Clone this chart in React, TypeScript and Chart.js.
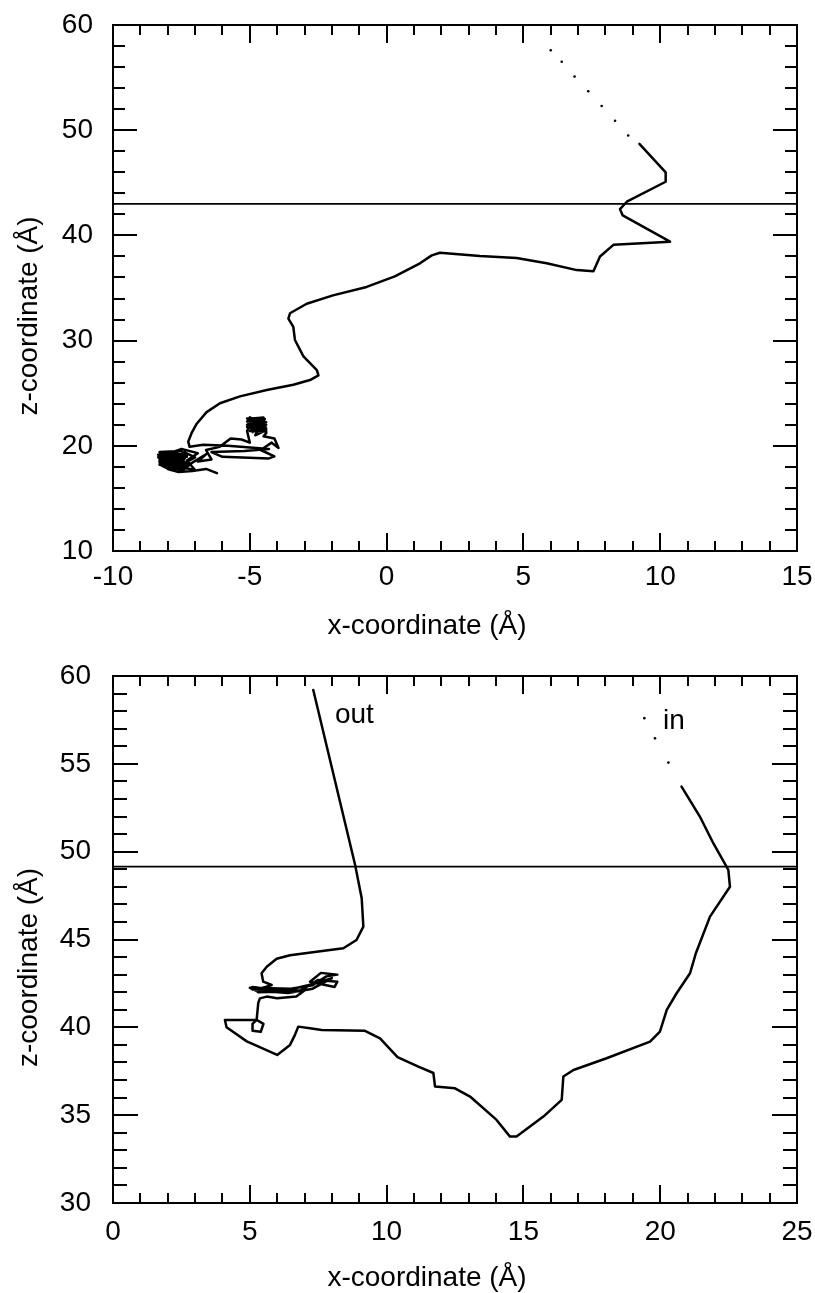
import { useEffect, useRef } from "react";
import { Chart, registerables } from "chart.js";

Chart.register(...registerables);

const FONT = "'Liberation Sans', Arial, Helvetica, sans-serif";
const FONT_SIZE = 28;
const X_TITLE = "x-coordinate (Å)";
const Z_TITLE = "z-coordinate (Å)";

// ---------- top panel ----------
const topPathX = [
  -6.2, -6.6, -7.1, -7.6, -8.0, -8.3, -8.1, -7.7, -7.4, -7.8, -8.2, -7.9, -7.3, -7.6, -7.0, -7.3,
  -6.9, -7.5, -8.0, -7.7, -8.3, -7.9, -8.2, -7.6, -7.9, -8.35, -7.5, -7.2, -7.9, -8.1, -7.4, -7.0,
  -7.7,
  -8.3, -7.5, -8.35, -7.4, -8.35, -7.3, -8.3, -7.4, -8.3, -7.5, -8.2, -7.3, -8.0, -7.5,
  -7.1, -6.6, -6.9, -6.4, -6.6, -6.1, -5.7, -5.3, -5.0, -5.1, -4.9, -4.5, -4.4, -4.8, -4.6,
  -5.1, -4.8, -5.1, -4.5, -4.9, -4.4, -5.0, -4.7,
  -5.1, -4.45, -5.1, -4.4, -5.1, -4.45, -5.05, -4.4, -5.0, -4.4,
  -4.4, -4.5, -4.1, -3.95, -4.2, -4.6, -4.1, -4.3,
  -6.0, -6.4, -5.2, -4.3, -5.8, -6.7, -7.2,
  -7.25, -7.13, -6.94, -6.58, -6.09, -5.36, -4.38, -3.41, -2.8, -2.49, -2.55, -3.04,
  -3.35, -3.41, -3.59, -3.53, -2.92, -1.96, -0.73, 0.3, 1.22, 1.65, 1.95, 3.41, 4.75, 5.85, 6.95,
  7.56, 7.8, 8.29, 10.36, 8.63, 8.53, 8.78, 10.2, 10.2, 9.24,
];
const topPathZ = [
  17.4, 17.8, 17.6, 17.5, 17.8, 18.5, 19.2, 19.5, 18.9, 18.3, 18.8, 19.4, 19.1, 18.0, 17.7, 18.6,
  19.3, 19.7, 19.0, 18.1, 18.2, 17.7, 19.0, 19.6, 18.6, 18.9, 17.6, 18.2, 19.1, 18.0, 19.4, 18.9,
  17.9,
  19.4, 19.5, 19.15, 19.2, 18.9, 18.95, 18.65, 18.7, 18.4, 18.4, 18.1, 18.15, 17.85, 17.8,
  18.4, 19.2, 18.5, 18.7, 19.6, 19.9, 20.7, 20.6, 20.3, 21.4, 22.6, 22.7, 21.5, 21.0, 22.2,
  21.8, 22.5, 22.0, 22.4, 21.3, 22.0, 22.7, 21.6,
  22.6, 22.55, 22.3, 22.25, 22.0, 21.95, 21.7, 21.65, 21.4, 21.35,
  21.2, 20.9, 20.7, 19.8, 20.3, 19.6, 19.0, 18.8,
  18.95, 19.4, 19.5, 19.7, 20.0, 20.1, 19.9,
  20.4, 21.2, 22.1, 23.2, 24.04, 24.7, 25.3, 25.8, 26.25, 26.7, 27.2, 28.5,
  30.06, 31.3, 32.1, 32.6, 33.5, 34.3, 35.1, 36.1, 37.35, 38.1, 38.35, 38.04, 37.85, 37.35, 36.7,
  36.6, 38.0, 39.1, 39.4, 41.9, 42.5, 43.2, 45.1, 46.0, 48.7,
];
const topDotsX = [8.83, 8.35, 7.86, 7.37, 6.87, 6.4, 6.0];
const topDotsZ = [49.5, 50.9, 52.3, 53.7, 55.1, 56.5, 57.6];
const topRefZ = 43.0;
const topXRange = [-10, 15];
const topZRange = [10, 60];
const topXStep = 5;
const topZStep = 10;
const topXMinor = 1;
const topZMinor = 2;

// ---------- bottom panel ----------
const botPathX = [
  20.78, 21.45, 21.94, 22.49, 22.55, 21.82, 21.3, 21.09, 20.6, 20.24, 19.99, 19.63, 18.04, 16.83,
  16.46, 16.4, 15.73, 14.75, 14.51, 14.02, 13.05, 12.5, 11.77, 11.71, 11.16, 10.4, 9.76, 9.21,
  7.63, 7.2, 6.77, 6.65, 6.47, 6.0, 4.89, 4.15, 4.09, 5.25, 5.1, 5.1, 5.4, 5.5, 5.25, 5.31, 5.37,
  5.62, 6.0, 6.7, 7.0, 5.1, 5.0, 6.5, 7.3, 7.8, 8.2, 7.6, 7.2, 8.1, 8.2, 7.5, 6.8, 5.3, 5.1, 6.2,
  7.4, 8.0, 7.3, 6.4, 5.2, 5.8,
  5.49, 5.43, 5.62, 5.98, 6.47, 7.44, 8.42, 8.9, 9.15, 9.09, 8.85, 7.32,
];
const botPathZ = [
  53.7, 52.0, 50.48, 48.96, 48.0, 46.3, 44.2, 43.08, 41.94, 41.0, 39.76, 39.19, 38.24, 37.57,
  37.2, 35.87, 34.92, 33.78, 33.78, 34.73, 36.06, 36.53, 36.63, 37.4, 37.76, 38.3, 39.37, 39.8,
  39.85, 39.95, 40.04, 39.57, 39.0, 38.43, 39.2, 40.0, 40.42, 40.42, 40.2, 39.8, 39.75, 40.2, 40.42,
  41.4, 41.65, 41.75, 41.65, 41.75, 42.1, 42.15, 42.25, 42.2, 42.4, 42.9, 43.0, 43.1, 42.6, 42.3,
  42.6, 42.7, 42.05, 42.0, 42.3, 42.05, 42.5, 42.8, 42.2, 41.95, 42.1, 42.41,
  42.6, 43.08, 43.45, 43.9, 44.1, 44.3, 44.5, 44.97, 45.73, 47.35, 49.24, 59.2,
];
const botDotsX = [19.42, 19.81, 20.3];
const botDotsZ = [57.6, 56.45, 55.07];
const botRefZ = 49.15;
const botXRange = [0, 25];
const botZRange = [30, 60];
const botXStep = 5;
const botZStep = 5;
const botXMinor = 1;
const botZMinor = 1;
const botLabels = ["out", "in"];
const botLabelX = [8.11, 20.1];
const botLabelZ = [57.33, 56.98];

type PanelCfg = {
  xs: number[];
  zs: number[];
  dx: number[];
  dz: number[];
  ref: number;
  xr: number[];
  zr: number[];
  xStep: number;
  zStep: number;
  xMinor: number;
  zMinor: number;
  xTickLen: number[];
  zTickLen: number[];
  xPad: number;
  zPad: number;
  scaleH: number;
  labels?: string[];
  lx?: number[];
  lz?: number[];
};

function toPts(xs: number[], zs: number[]) {
  return xs.map((x, i) => ({ x, y: zs[i] }));
}

function makeDecor(cfg: PanelCfg) {
  return {
    id: "decor",
    afterDraw(chart: any) {
      const { ctx, chartArea: a, scales } = chart;
      const sx = scales.x;
      const sy = scales.y;
      ctx.save();
      ctx.strokeStyle = "#000";
      ctx.lineWidth = 2;
      ctx.lineCap = "butt";
      ctx.strokeRect(a.left, a.top, a.right - a.left, a.bottom - a.top);
      ctx.beginPath();
      for (let v = cfg.xr[0]; v <= cfg.xr[1] + 1e-9; v += cfg.xMinor) {
        const isMajor = Math.abs(v / cfg.xStep - Math.round(v / cfg.xStep)) < 1e-6;
        const len = isMajor ? cfg.xTickLen[0] : cfg.xTickLen[1];
        const px = Math.round(sx.getPixelForValue(v));
        ctx.moveTo(px, a.bottom);
        ctx.lineTo(px, a.bottom - len);
        ctx.moveTo(px, a.top);
        ctx.lineTo(px, a.top + len);
      }
      for (let v = cfg.zr[0]; v <= cfg.zr[1] + 1e-9; v += cfg.zMinor) {
        const isMajor = Math.abs(v / cfg.zStep - Math.round(v / cfg.zStep)) < 1e-6;
        const len = isMajor ? cfg.zTickLen[0] : cfg.zTickLen[1];
        const py = Math.round(sy.getPixelForValue(v));
        ctx.moveTo(a.left, py);
        ctx.lineTo(a.left + len, py);
        ctx.moveTo(a.right, py);
        ctx.lineTo(a.right - len, py);
      }
      ctx.stroke();

      ctx.fillStyle = "#000";
      ctx.font = `${FONT_SIZE}px ${FONT}`;
      ctx.textAlign = "center";
      ctx.textBaseline = "alphabetic";
      const cx = (a.left + a.right) / 2 - 28;
      ctx.fillText(X_TITLE, cx, a.bottom + 83);
      const cy = (a.top + a.bottom) / 2 + 28;
      ctx.save();
      ctx.translate(37, cy);
      ctx.rotate(-Math.PI / 2);
      ctx.fillText(Z_TITLE, 0, 0);
      ctx.restore();
      if (cfg.labels && cfg.lx && cfg.lz) {
        ctx.textAlign = "left";
        cfg.labels.forEach((t, i) => {
          ctx.fillText(t, sx.getPixelForValue(cfg.lx![i]), sy.getPixelForValue(cfg.lz![i]));
        });
      }
      ctx.restore();
    },
  };
}

function buildChart(canvas: HTMLCanvasElement, cfg: PanelCfg) {
  const font = { family: FONT, size: FONT_SIZE };
  return new Chart(canvas, {
    type: "scatter",
    data: {
      datasets: [
        {
          data: [
            { x: cfg.xr[0], y: cfg.ref },
            { x: cfg.xr[1], y: cfg.ref },
          ],
          showLine: true,
          borderColor: "#000",
          borderWidth: 1.8,
          pointRadius: 0,
        },
        {
          data: toPts(cfg.xs, cfg.zs),
          showLine: true,
          borderColor: "#000",
          borderWidth: 2.5,
          borderJoinStyle: "round",
          borderCapStyle: "round",
          pointRadius: 0,
          tension: 0,
        },
        {
          data: toPts(cfg.dx, cfg.dz),
          showLine: false,
          backgroundColor: "#000",
          borderWidth: 0,
          pointRadius: 1.3,
        },
      ],
    } as any,
    options: {
      animation: false,
      responsive: false,
      maintainAspectRatio: false,
      events: [],
      layout: { padding: { top: 25, right: 18, left: 0, bottom: 0 } },
      plugins: { legend: { display: false }, tooltip: { enabled: false } },
      scales: {
        x: {
          type: "linear",
          min: cfg.xr[0],
          max: cfg.xr[1],
          ticks: { stepSize: cfg.xStep, font, color: "#000", padding: cfg.xPad, maxRotation: 0, autoSkip: false },
          grid: { display: false, drawTicks: false },
          border: { display: false },
          afterFit: (s: any) => {
            s.height = cfg.scaleH;
            s.paddingLeft = 0;
            s.paddingRight = 0;
            s.paddingTop = 0;
            s.paddingBottom = 0;
          },
        },
        y: {
          type: "linear",
          min: cfg.zr[0],
          max: cfg.zr[1],
          ticks: { stepSize: cfg.zStep, font, color: "#000", padding: cfg.zPad, autoSkip: false },
          grid: { display: false, drawTicks: false },
          border: { display: false },
          afterFit: (s: any) => {
            s.width = 113;
            s.paddingLeft = 0;
            s.paddingRight = 0;
            s.paddingTop = 0;
            s.paddingBottom = 0;
          },
        },
      },
    } as any,
    plugins: [makeDecor(cfg)],
  });
}

const topCfg: PanelCfg = {
  xs: topPathX,
  zs: topPathZ,
  dx: topDotsX,
  dz: topDotsZ,
  ref: topRefZ,
  xr: topXRange,
  zr: topZRange,
  xStep: topXStep,
  zStep: topZStep,
  xMinor: topXMinor,
  zMinor: topZMinor,
  xTickLen: [18, 10],
  zTickLen: [24, 12],
  xPad: 9,
  zPad: 20,
  scaleH: 91,
};

const botCfg: PanelCfg = {
  xs: botPathX,
  zs: botPathZ,
  dx: botDotsX,
  dz: botDotsZ,
  ref: botRefZ,
  xr: botXRange,
  zr: botZRange,
  xStep: botXStep,
  zStep: botZStep,
  xMinor: botXMinor,
  zMinor: botZMinor,
  xTickLen: [18, 10],
  zTickLen: [25, 14],
  xPad: 12,
  zPad: 22,
  scaleH: 90,
  labels: botLabels,
  lx: botLabelX,
  lz: botLabelZ,
};

export default function App() {
  const topRef = useRef<HTMLCanvasElement>(null);
  const botRef = useRef<HTMLCanvasElement>(null);

  useEffect(() => {
    const c1 = buildChart(topRef.current!, topCfg);
    const c2 = buildChart(botRef.current!, botCfg);
    return () => {
      c1.destroy();
      c2.destroy();
    };
  }, []);

  return (
    <div style={{ position: "absolute", left: 0, top: 0, width: 815, height: 1293, background: "#fff" }}>
      <canvas
        ref={topRef}
        width={815}
        height={642}
        style={{ position: "absolute", left: 0, top: 0, width: 815, height: 642 }}
      />
      <canvas
        ref={botRef}
        width={815}
        height={642}
        style={{ position: "absolute", left: 0, top: 651, width: 815, height: 642 }}
      />
    </div>
  );
}
